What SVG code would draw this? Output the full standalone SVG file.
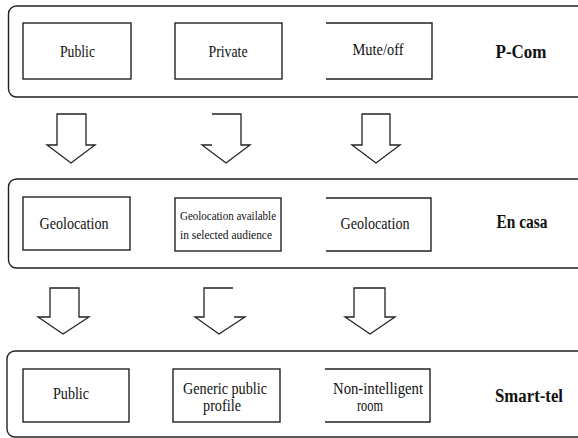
<svg xmlns="http://www.w3.org/2000/svg" width="578" height="438" viewBox="0 0 578 438">
  <style>
    .frame { fill: none; stroke: #222; stroke-width: 1.4; }
    .box { fill: none; stroke: #222; stroke-width: 1.4; }
    .arrow { fill: none; stroke: #222; stroke-width: 1.3; stroke-linejoin: miter; }
    .t { font-family: "Liberation Serif", "Times New Roman", serif; font-size: 16px; fill: #111; text-anchor: middle; }
    .s { font-family: "Liberation Serif", "Times New Roman", serif; font-size: 12.5px; fill: #111; text-anchor: middle; }
    .b { font-family: "Liberation Serif", "Times New Roman", serif; font-size: 18.5px; font-weight: bold; fill: #111; text-anchor: middle; }
  </style>
  <rect width="578" height="438" fill="#ffffff"/>

  <g id="panel-pcom">
    <rect class="frame" x="8.5" y="6" width="620" height="91" rx="8"/>
    <text class="b" x="521" y="58" textLength="51" lengthAdjust="spacingAndGlyphs">P-Com</text>
  </g>
  <g id="node-public-1">
    <rect class="box" x="23" y="23" width="108" height="56"/>
    <text class="t" x="77.5" y="57" textLength="35" lengthAdjust="spacingAndGlyphs">Public</text>
  </g>
  <g id="node-private">
    <rect class="box" x="175" y="23" width="107" height="56"/>
    <text class="t" x="228" y="57" textLength="39" lengthAdjust="spacingAndGlyphs">Private</text>
  </g>
  <g id="node-mute">
    <path class="box" d="M326,23 H432 V79 H326"/>
    <text class="t" x="378" y="55" textLength="51" lengthAdjust="spacingAndGlyphs">Mute/off</text>
  </g>

  <g id="panel-encasa">
    <rect class="frame" x="8.5" y="179" width="620" height="89" rx="8"/>
    <text class="b" x="522" y="228" textLength="51" lengthAdjust="spacingAndGlyphs">En casa</text>
  </g>
  <g id="node-geo-1">
    <rect class="box" x="23" y="197" width="107" height="53"/>
    <text class="t" x="74" y="229" textLength="69" lengthAdjust="spacingAndGlyphs">Geolocation</text>
  </g>
  <g id="node-geo-audience">
    <rect class="box" x="175" y="198" width="106" height="53"/>
    <text class="s" x="228" y="220" textLength="96" lengthAdjust="spacingAndGlyphs">Geolocation available</text>
    <text class="s" x="226" y="239" textLength="92" lengthAdjust="spacingAndGlyphs">in selected audience</text>
  </g>
  <g id="node-geo-3">
    <path class="box" d="M326,198 H431 V251 H326"/>
    <text class="t" x="375" y="229" textLength="69" lengthAdjust="spacingAndGlyphs">Geolocation</text>
  </g>

  <g id="panel-smarttel">
    <rect class="frame" x="7" y="351" width="620" height="86" rx="8"/>
    <text class="b" x="529" y="402" textLength="68" lengthAdjust="spacingAndGlyphs">Smart-tel</text>
  </g>
  <g id="node-public-3">
    <rect class="box" x="23" y="369" width="106" height="53"/>
    <text class="t" x="71" y="399" textLength="36" lengthAdjust="spacingAndGlyphs">Public</text>
  </g>
  <g id="node-generic">
    <rect class="box" x="173" y="369" width="107" height="53"/>
    <text class="t" x="225" y="394" textLength="84" lengthAdjust="spacingAndGlyphs">Generic public</text>
    <text class="t" x="222" y="411" textLength="38" lengthAdjust="spacingAndGlyphs">profile</text>
  </g>
  <g id="node-nonintelligent">
    <path class="box" d="M325,369 H430 V422 H325"/>
    <text class="t" x="378" y="394" textLength="90" lengthAdjust="spacingAndGlyphs">Non-intelligent</text>
    <text class="t" x="370" y="411" textLength="26" lengthAdjust="spacingAndGlyphs">room</text>
  </g>

  <g id="connectors">
    <path class="arrow" d="M57,145 V114 H86 V145 H95 L71,163 L47,145 Z"/>
    <path class="arrow" d="M212,114 H241 V145 H250 L226,163 L202,145 H212"/>
    <path class="arrow" d="M362,145 V114 H390 V145 H400 L376,163 L352,145 Z"/>
    <path class="arrow" d="M50,317 V288 H79 V317 H89 L63,334 L38,317 Z"/>
    <path class="arrow" d="M233,288 H204 V317 H195 L219,334 L245,317 H234"/>
    <path class="arrow" d="M354,317 V288 H385 V317 H395 L370,334 L345,317 Z"/>
  </g>
</svg>
